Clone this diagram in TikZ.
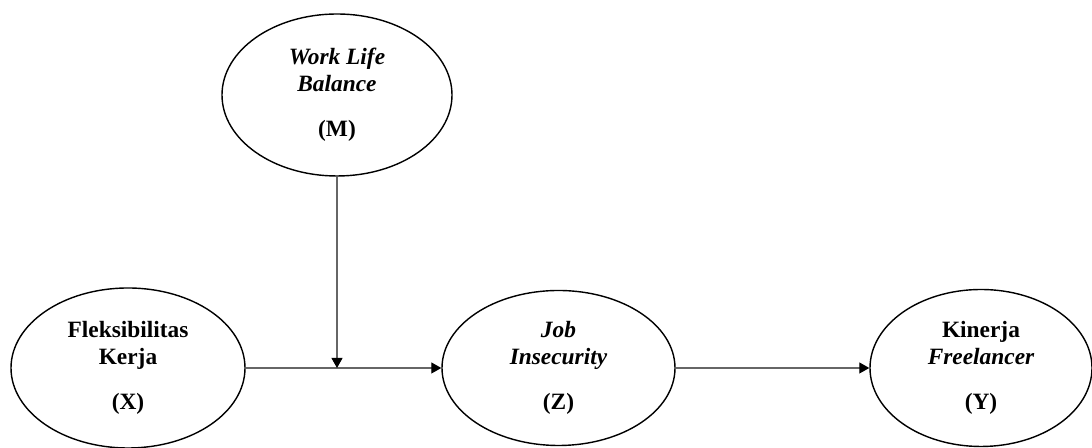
\documentclass[tikz,border=0pt]{standalone}
\usepackage{fontspec}
\setmainfont{Liberation Serif}
\usetikzlibrary{arrows.meta,shapes.geometric}

\begin{document}
\begin{tikzpicture}[
        var/.style={ellipse,draw,line width=0.8pt,inner sep=0pt,align=center,
            font=\fontsize{13.3}{15.4}\selectfont\bfseries},
        link/.style={black!60,line width=0.6pt,-{Triangle[length=2mm,width=2.2mm,color=black]}}
    ]
    \useasboundingbox (0,0) rectangle (21.84,8.96);
    \node[var,minimum width=4.6cm,minimum height=3.24cm] (M) at (6.74,7.06)
        {\itshape Work Life\\\itshape Balance\\[10pt](M)};
    \node[var,minimum width=4.68cm,minimum height=3.2cm] (X) at (2.56,1.6)
        {Fleksibilitas\\Kerja\\[10pt](X)};
    \node[var,minimum width=4.66cm,minimum height=3.1cm] (Z) at (11.17,1.6)
        {\itshape Job\\\itshape Insecurity\\[10pt](Z)};
    \node[var,minimum width=4.44cm,minimum height=3.14cm] (Y) at (19.62,1.6)
        {Kinerja\\\itshape Freelancer\\[10pt](Y)};
    \coordinate (join) at (M.south |- X.east);
    \draw[link] (X.east) -- (Z.west);
    \draw[link] (M.south) -- (join);
    \draw[link] (Z.east) -- (Y.west);
\end{tikzpicture}
\end{document}
